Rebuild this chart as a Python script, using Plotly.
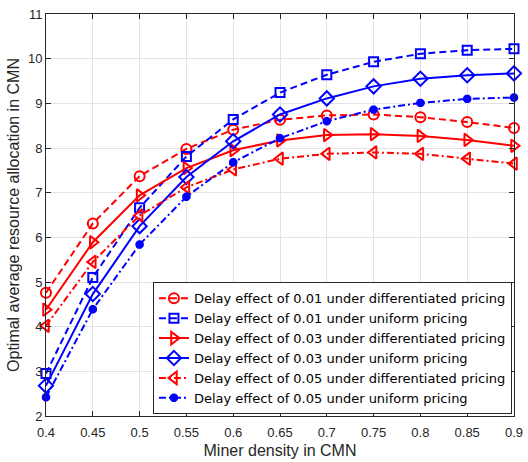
import plotly.graph_objects as go

x = [0.4, 0.45, 0.5, 0.55, 0.6, 0.65, 0.7, 0.75, 0.8, 0.85, 0.9]

diff_001 = [4.76, 6.31, 7.37, 7.98, 8.41, 8.63, 8.73, 8.75, 8.69, 8.58, 8.45]
unif_001 = [2.95, 5.10, 6.66, 7.81, 8.64, 9.24, 9.64, 9.93, 10.11, 10.19, 10.22]
diff_003 = [4.38, 5.89, 6.94, 7.55, 7.95, 8.17, 8.29, 8.31, 8.27, 8.18, 8.05]
unif_003 = [2.68, 4.73, 6.25, 7.35, 8.15, 8.75, 9.11, 9.38, 9.55, 9.63, 9.67]
diff_005 = [4.02, 5.45, 6.49, 7.12, 7.52, 7.76, 7.87, 7.90, 7.87, 7.76, 7.65]
unif_005 = [2.42, 4.39, 5.84, 6.91, 7.68, 8.22, 8.60, 8.86, 9.01, 9.10, 9.13]

names = [
    "Delay effect of 0.01 under differentiated pricing",
    "Delay effect of 0.01 under uniform pricing",
    "Delay effect of 0.03 under differentiated pricing",
    "Delay effect of 0.03 under uniform pricing",
    "Delay effect of 0.05 under differentiated pricing",
    "Delay effect of 0.05 under uniform pricing",
]

x_ticks = [0.4, 0.45, 0.5, 0.55, 0.6, 0.65, 0.7, 0.75, 0.8, 0.85, 0.9]
x_tick_labels = ["0.4", "0.45", "0.5", "0.55", "0.6", "0.65", "0.7", "0.75", "0.8", "0.85", "0.9"]
y_ticks = [2, 3, 4, 5, 6, 7, 8, 9, 10, 11]

RED = "#ff0000"
BLUE = "#0000ff"
DASH = "7px,4px"
DASHDOT = "7px,3px,2px,3px"

series = [
    (diff_001, RED, DASH, "circle-open", 10),
    (unif_001, BLUE, DASH, "square-open", 9),
    (diff_003, RED, "solid", "triangle-right-open", 11),
    (unif_003, BLUE, "solid", "diamond-open", 11),
    (diff_005, RED, DASHDOT, "triangle-left-open", 11),
    (unif_005, BLUE, DASHDOT, "asterisk-open", 7),
]

fig = go.Figure()
for (vals, col, dash, sym, size), nm in zip(series, names):
    fig.add_trace(go.Scatter(
        x=x, y=vals, name=nm, mode="lines+markers",
        line=dict(color=col, width=2, dash=dash),
        marker=dict(symbol=sym, size=size, color=col,
                    line=dict(color=col, width=2 if sym != "asterisk-open" else 3)),
        cliponaxis=False,
    ))

axis_common = dict(
    showgrid=True, gridcolor="#e3e3e3", gridwidth=1,
    showline=True, linecolor="#262626", linewidth=1, mirror="ticks",
    ticks="inside", ticklen=5, tickcolor="#262626",
    tickfont=dict(family="Liberation Sans, Arial", size=13, color="#262626"),
    zeroline=False, ticklabeloverflow="allow",
)

fig.update_layout(
    width=528, height=462,
    margin=dict(l=46, r=5, t=14, b=45),
    paper_bgcolor="white", plot_bgcolor="white",
    font=dict(family="Liberation Sans, Arial", color="#262626"),
    xaxis=dict(range=[0.4, 0.9], tickvals=x_ticks, ticktext=x_tick_labels,
               ticklabelstandoff=4,
               title=dict(text="Miner density in CMN", font=dict(size=16, color="#262626"), standoff=6),
               **axis_common),
    yaxis=dict(range=[2, 11], tickvals=y_ticks,
               title=dict(text="Optimal average resource allocation in CMN", font=dict(size=16, color="#262626"), standoff=4),
               **axis_common),
    legend=dict(
        x=0.2285, y=0.3325, xanchor="left", yanchor="top",
        bgcolor="white", bordercolor="#262626", borderwidth=1,
        font=dict(family="DejaVu Sans", size=13, color="#000000"),
        tracegroupgap=0,
    ),
    showlegend=True,
)

fig.write_html("out.html")
